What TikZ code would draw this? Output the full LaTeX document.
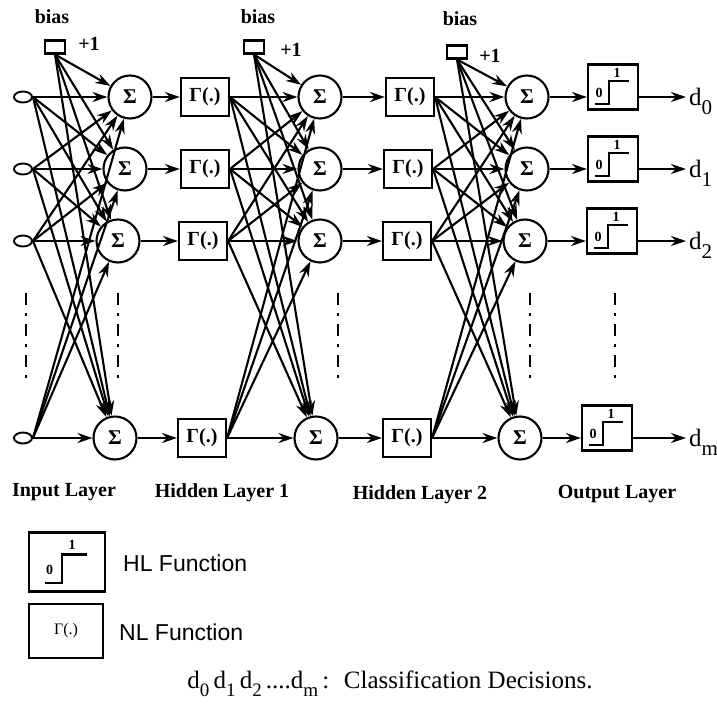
\documentclass[tikz,border=0pt]{standalone}
\usepackage{fontspec}
\setmainfont{Liberation Serif}
\newfontfamily\legendfont{Liberation Sans}
\usetikzlibrary{arrows.meta, shapes.geometric}

\newcommand{\fsz}[1]{\fontsize{#1}{#1}\selectfont}
\newcommand{\lowidx}[1]{\raisebox{-8pt}{\fsz{19}#1}}
% hard limiter step drawn inside box #1, scaled by #2
\newcommand{\hlcurve}[2]{%
  \draw[line width=2.1pt] ([shift={(-18*#2,17*#2)}]#1.center) -- ++(14*#2,0) -- ++(0,-23*#2) -- ++(20*#2,0);
  \node[font=\bfseries\fsz{14}] (#1z) at ([shift={(-14*#2,6*#2)}]#1.center) {0};
  \node[font=\bfseries\fsz{14}] (#1o) at ([shift={(4*#2,-14*#2)}]#1.center) {1};
}

\begin{document}
\begin{tikzpicture}[x=1pt, y=-1pt,
  every node/.style={inner sep=1pt},
  inpnode/.style={ellipse, draw, line width=1.9pt, minimum width=18pt, minimum height=11pt, inner sep=0pt},
  sumnode/.style={circle, draw, line width=2.1pt, minimum size=43pt, inner sep=0pt, font=\bfseries\fsz{21}},
  nlbox/.style={draw, line width=2.1pt, minimum width=48pt, minimum height=38pt, inner sep=0pt, font=\bfseries\fsz{20}},
  hlbox/.style={draw, line width=2.1pt, minimum width=50pt, minimum height=45pt, inner sep=0pt},
  biasbox/.style={draw, line width=2.1pt, minimum width=20pt, minimum height=13pt, inner sep=0pt},
  wire/.style={line width=2.1pt, -{Stealth[length=15pt, width=10pt]}},
  dotline/.style={line width=2.8pt, dash pattern=on 12pt off 8pt on 3pt off 8pt},
  lbl/.style={font=\bfseries\fsz{20}}]

  \useasboundingbox (0,0) rectangle (717,720);

  % neurons, one row at a time
  \foreach \r/\y/\xa/\xb/\xc/\xd/\xe/\xf in {0/97/130/205/320/410/527/613,
      1/169/125/205/320/408/527/613, 2/241/118/203/320/407/525/612,
      m/438/115/202/316/407/520/607} {
    \node[inpnode] (in\r) at (23,\y) {};
    \node[sumnode] (sa\r) at (\xa,\y) {Σ};
    \node[nlbox] (ga\r) at (\xb,\y) {Γ(.)};
    \node[sumnode] (sb\r) at (\xc,\y) {Σ};
    \node[nlbox] (gb\r) at (\xd,\y) {Γ(.)};
    \node[sumnode] (sc\r) at (\xe,\y) {Σ};
    \node[hlbox] (hl\r) at (\xf,\y-10) {};
    \hlcurve{hl\r}{1}
    \node[anchor=base west, inner sep=0pt, font=\fsz{25}] (d\r) at (689,\y+8) {d\raisebox{-9pt}{\fsz{21}\r}};
  }

  % bias units
  \node[biasbox] (ba) at (55,47) {};
  \node[biasbox] (bb) at (254,47) {};
  \node[biasbox] (bc) at (457,52) {};
  \node[lbl] (bta) at (52,17) {bias};
  \node[lbl] (btb) at (258,17) {bias};
  \node[lbl] (btc) at (460,19) {bias};
  \node[lbl] (pa) at (89,44) {+1};
  \node[lbl] (pb) at (291,50) {+1};
  \node[lbl] (pc) at (490,56) {+1};

  % weights
  \foreach \a in {0,1,2,m} {
    \foreach \b in {0,1,2,m} {
      \draw[wire] (in\a.east) -- (sa\b);
      \draw[wire] (ga\a.east) -- (sb\b);
      \draw[wire] (gb\a.east) -- (sc\b);
    }
    \draw[wire] (ba.south) -- (sa\a);
    \draw[wire] (bb.south) -- (sb\a);
    \draw[wire] (bc.south) -- (sc\a);
    \draw[wire] (sa\a) -- (ga\a);
    \draw[wire] (sb\a) -- (gb\a);
    \draw[wire] (sc\a) -- (hl\a.west |- sc\a);
    \draw[wire] (hl\a.east |- sc\a) -- ([xshift=-3pt]d\a.west |- sc\a);
  }

  % omitted rows
  \foreach \x in {26,118,338,530,615}
    \draw[dotline] (\x,293) -- (\x,385);

  % layer names
  \node[lbl] (lin) at (64,492) {Input Layer};
  \node[lbl] (lh1) at (222,493) {Hidden Layer 1};
  \node[lbl] (lh2) at (420,495) {Hidden Layer 2};
  \node[lbl] (lout) at (617,494) {Output Layer};

  % key
  \node[hlbox, minimum width=76pt, minimum height=59pt] (hlkey) at (67,562) {};
  \hlcurve{hlkey}{1.25}
  \node[nlbox, minimum width=74pt, minimum height=54pt, font=\fsz{16}] (nlkey) at (66,631) {Γ(.)};
  \node[anchor=west, font=\legendfont\fsz{23}] (hltxt) at (122,563) {HL Function};
  \node[anchor=west, font=\legendfont\fsz{23}] (nltxt) at (118,632) {NL Function};
  \node[font=\fsz{25}] (cls) at (390,684) {d\lowidx{0}\,d\lowidx{1}\,d\lowidx{2}\,....d\lowidx{m}\,: \ Classification Decisions.};
\end{tikzpicture}
\end{document}
